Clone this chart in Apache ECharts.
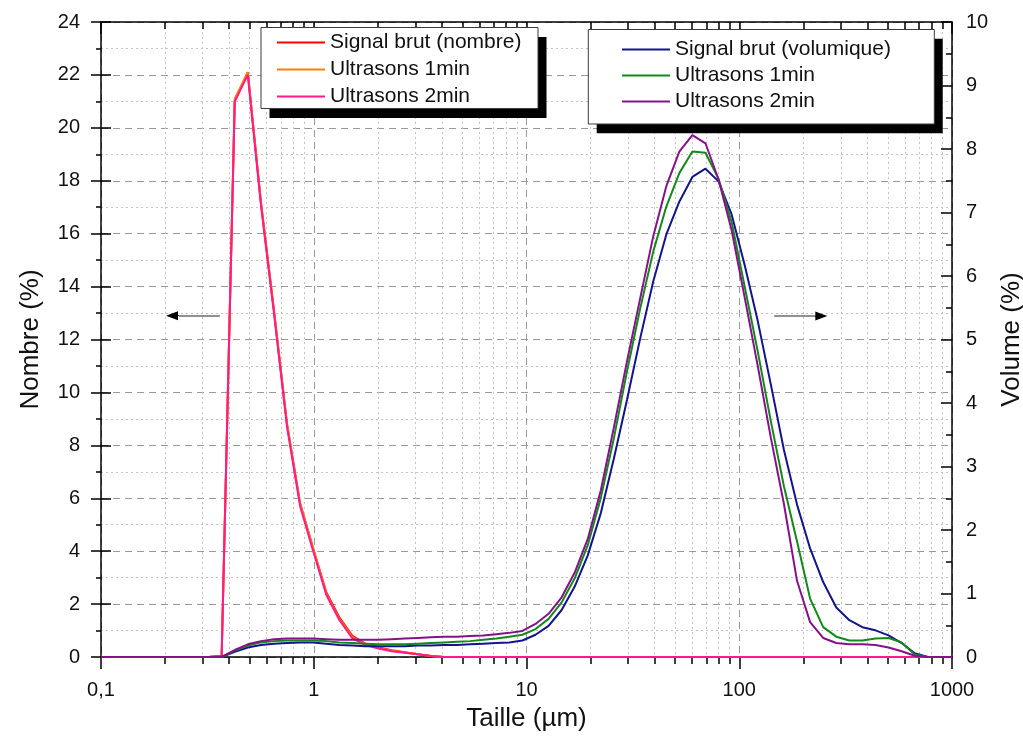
<!DOCTYPE html>
<html>
<head>
<meta charset="utf-8">
<script src="https://cdn.jsdelivr.net/npm/echarts@6/dist/echarts.min.js"></script>
<style>html,body{margin:0;padding:0;background:#fff}#c{width:1023px;height:736px}</style>
</head>
<body>
<div id="c"></div>
<script>
// ---- Data ----
const xTickLabels = ['0,1', '1', '10', '100', '1000'];
const minorXValues = [0.2,0.3,0.4,0.5,0.6,0.7,0.8,0.9,2,3,4,5,6,7,8,9,20,30,40,50,60,70,80,90,200,300,400,500,600,700,800,900];

// Number distribution (left axis, %)
const numSizes  = [0.1, 0.3204, 0.3691, 0.4252, 0.4898, 0.5643, 0.6501, 0.7489, 0.8630, 0.9940, 1.145, 1.319, 1.520, 1.751, 2.017, 2.324, 2.677, 3.084, 3.553, 4.093, 1000];
const numRaw    = [0, 0, 0.05, 21.0, 22.1, 17.2, 13.1, 8.8, 5.8, 4.1, 2.45, 1.5, 0.8, 0.5, 0.36, 0.26, 0.18, 0.1, 0.04, 0, 0];
const numUS1    = [0, 0, 0.05, 21.1, 22.1, 17.2, 13.1, 8.8, 5.8, 4.1, 2.4, 1.45, 0.75, 0.48, 0.34, 0.24, 0.17, 0.1, 0.04, 0, 0];
const numUS2    = [0, 0, 0.05, 21.0, 22.0, 17.1, 13.0, 8.7, 5.7, 4.0, 2.35, 1.4, 0.7, 0.45, 0.32, 0.22, 0.16, 0.1, 0.04, 0, 0];

// Volume distribution (right axis, %)
const volSizes = [0.1, 0.3204, 0.3691, 0.4252, 0.4898, 0.5643, 0.6501, 0.7489, 0.8630, 0.9940, 1.145, 1.319, 1.520, 1.751, 2.017, 2.324, 2.677, 3.084, 3.553, 4.093, 4.716, 5.433, 6.259, 7.210, 8.305, 9.568, 11.02, 12.70, 14.63, 16.85, 19.41, 22.37, 25.76, 29.68, 34.19, 39.39, 45.38, 52.27, 60.22, 69.38, 79.93, 92.09, 106.1, 122.2, 140.8, 162.2, 186.9, 215.3, 248.0, 285.8, 329.2, 379.3, 436.9, 503.3, 579.9, 668.0, 769.6, 886.6, 1000];
const volRaw = [0, 0, 0, 0.08, 0.15, 0.19, 0.21, 0.22, 0.23, 0.23, 0.21, 0.19, 0.18, 0.17, 0.17, 0.17, 0.17, 0.18, 0.18, 0.19, 0.19, 0.20, 0.21, 0.22, 0.23, 0.26, 0.35, 0.49, 0.74, 1.11, 1.60, 2.27, 3.13, 4.05, 5.01, 5.91, 6.65, 7.17, 7.56, 7.69, 7.49, 6.97, 6.17, 5.29, 4.29, 3.26, 2.40, 1.71, 1.18, 0.78, 0.58, 0.47, 0.42, 0.34, 0.22, 0.06, 0, 0, 0];
const volUS1 = [0, 0, 0, 0.10, 0.18, 0.23, 0.25, 0.26, 0.26, 0.26, 0.25, 0.23, 0.22, 0.21, 0.20, 0.20, 0.20, 0.21, 0.22, 0.23, 0.24, 0.25, 0.27, 0.29, 0.32, 0.35, 0.44, 0.60, 0.86, 1.24, 1.76, 2.51, 3.45, 4.50, 5.48, 6.38, 7.09, 7.62, 7.96, 7.94, 7.53, 6.85, 5.83, 4.81, 3.71, 2.69, 1.82, 0.92, 0.47, 0.32, 0.26, 0.26, 0.29, 0.30, 0.23, 0.04, 0, 0, 0];
const volUS2 = [0, 0, 0, 0.11, 0.20, 0.25, 0.28, 0.29, 0.29, 0.29, 0.28, 0.27, 0.27, 0.27, 0.27, 0.28, 0.29, 0.30, 0.31, 0.32, 0.32, 0.33, 0.34, 0.36, 0.38, 0.41, 0.52, 0.68, 0.94, 1.33, 1.86, 2.63, 3.62, 4.66, 5.64, 6.62, 7.41, 7.96, 8.22, 8.09, 7.52, 6.72, 5.66, 4.58, 3.45, 2.41, 1.20, 0.55, 0.30, 0.22, 0.20, 0.20, 0.19, 0.15, 0.09, 0.02, 0, 0, 0];

const numNames = ['Signal brut (nombre)', 'Ultrasons 1min', 'Ultrasons 2min'];
const volNames = ['Signal brut (volumique)', 'Ultrasons 1min ', 'Ultrasons 2min '];
const numColors = ['#ff0000', '#ff8000', '#ff1a8c'];
const volColors = ['#14148c', '#13891a', '#86128a'];

// arrows (data coordinates): shaft start, head base, tip
const leftArrow  = { from: [0.362, 12.9], head: [0.232, 12.9], to: [0.2156, 12.9] };
const rightArrow = { from: [146, 5.37], head: [228, 5.37], to: [243, 5.37] };

// ---- Chart ----
const FONT = 'Liberation Sans, Arial, sans-serif';
const pair = (xs, ys) => xs.map((x, i) => [x, ys[i]]);
const chart = echarts.init(document.getElementById('c'), null, { renderer: 'canvas' });

function fmtX(v) {
  const map = {0.1: xTickLabels[0], 1: xTickLabels[1], 10: xTickLabels[2], 100: xTickLabels[3], 1000: xTickLabels[4]};
  const key = Math.round(v * 1000) / 1000;
  return map[key] !== undefined ? map[key] : '';
}

const arrowLine = (a) => ({
  silent: true, symbol: 'none', symbolSize: [9, 12],
  label: { show: false },
  lineStyle: { color: '#6b6b6b', width: 1.6, type: 'solid' },
  emphasis: { disabled: true },
  data: [
    [{ coord: a.from, symbol: 'none' }, { coord: a.head, symbol: 'none' }],
    [{ coord: a.head, symbol: 'none', lineStyle: { color: '#000', width: 1 } },
     { coord: a.to, symbol: 'triangle', symbolSize: [9, 12], lineStyle: { color: '#000', width: 1 } }]
  ]
});

const numSeries = [numRaw, numUS1, numUS2].map((vals, i) => ({
  name: numNames[i], type: 'line', xAxisIndex: 0, yAxisIndex: 0,
  data: pair(numSizes, vals), symbol: 'none', smooth: false,
  lineStyle: { color: numColors[i], width: 2 }, itemStyle: { color: numColors[i] },
  z: 2, silent: true,
  markLine: i === 0 ? arrowLine(leftArrow) : undefined
}));
const volSeries = [volRaw, volUS1, volUS2].map((vals, i) => ({
  name: volNames[i], type: 'line', xAxisIndex: 0, yAxisIndex: 2,
  data: pair(volSizes, vals), symbol: 'none', smooth: false,
  lineStyle: { color: volColors[i], width: 2 }, itemStyle: { color: volColors[i] },
  z: 2, silent: true,
  markLine: i === 0 ? arrowLine(rightArrow) : undefined
}));

const logBase = { type: 'log', logBase: 10, min: 0.1, max: 1000, gridIndex: 0 };

const legendCommon = {
  orient: 'vertical', padding: 0, itemWidth: 48, itemHeight: 2, icon: 'rect',
  z: 20, selectedMode: false,
  textStyle: { fontFamily: FONT, fontSize: 21, lineHeight: 21, color: '#111' }
};

const option = {
  animation: false,
  backgroundColor: '#ffffff',
  textStyle: { fontFamily: FONT },
  grid: { show: false, left: 101, right: 71, top: 22, bottom: 79, outerBoundsMode: 'none', containLabel: false },
  graphic: [
    { type: 'rect', z: 10, silent: true, shape: { x: 269.5, y: 37, width: 277, height: 81 }, style: { fill: '#000' } },
    { type: 'rect', z: 11, silent: true, shape: { x: 261, y: 27.5, width: 277, height: 81 }, style: { fill: '#fff', stroke: '#3a3a3a', lineWidth: 1 } },
    { type: 'rect', z: 10, silent: true, shape: { x: 596.7, y: 38.8, width: 346, height: 94.5 }, style: { fill: '#000' } },
    { type: 'rect', z: 11, silent: true, shape: { x: 588.3, y: 29.5, width: 346, height: 94.5 }, style: { fill: '#fff', stroke: '#3a3a3a', lineWidth: 1 } }
  ],
  legend: [
    Object.assign({}, legendCommon, { data: numNames, left: 277, top: 32, itemGap: 6 }),
    Object.assign({}, legendCommon, { data: volNames, left: 622, top: 39, itemGap: 5 })
  ],
  xAxis: [
    Object.assign({}, logBase, {
      position: 'bottom',
      name: 'Taille (µm)', nameLocation: 'middle', nameGap: 49,
      nameTextStyle: { fontFamily: FONT, fontSize: 26, color: '#111' },
      axisLine: { show: true, onZero: false, lineStyle: { color: '#000', width: 1.5 } },
      axisTick: { show: true, inside: false, length: 12, lineStyle: { color: '#000', width: 1.5 } },
      axisLabel: { show: true, margin: 23, fontSize: 20, color: '#111', fontFamily: FONT, formatter: fmtX, showMinLabel: true, showMaxLabel: true },
      splitLine: { show: true, lineStyle: { color: '#9a9a9a', type: [7, 5], width: 1 } }
    }),
    Object.assign({}, logBase, {
      position: 'bottom',
      axisLine: { show: false, onZero: false },
      axisTick: { show: true, inside: false, length: 7, customValues: minorXValues, lineStyle: { color: '#000', width: 1.5 } },
      axisLabel: { show: false },
      splitLine: { show: true, lineStyle: { color: '#c4c4c4', type: [2, 3], width: 1 } }
    }),
    Object.assign({}, logBase, {
      position: 'top',
      axisLine: { show: true, onZero: false, lineStyle: { color: '#000', width: 1.5 } },
      axisTick: { show: true, inside: true, length: 12, lineStyle: { color: '#000', width: 1.5 } },
      axisLabel: { show: false }, splitLine: { show: false }
    }),
    Object.assign({}, logBase, {
      position: 'top',
      axisLine: { show: false, onZero: false },
      axisTick: { show: true, inside: true, length: 7, customValues: minorXValues, lineStyle: { color: '#000', width: 1.5 } },
      axisLabel: { show: false }, splitLine: { show: false }
    })
  ],
  yAxis: [
    {
      type: 'value', position: 'left', min: 0, max: 24, interval: 2,
      name: 'Nombre (%)', nameLocation: 'middle', nameGap: 57, nameRotate: 90,
      nameTextStyle: { fontFamily: FONT, fontSize: 26, color: '#111' },
      axisLine: { show: true, onZero: false, lineStyle: { color: '#000', width: 1.5 } },
      axisTick: { show: true, inside: false, length: 10, lineStyle: { color: '#000', width: 1.5 } },
      minorTick: { show: true, splitNumber: 2, length: 5, lineStyle: { color: '#000', width: 1.5 } },
      axisLabel: { margin: 21, fontSize: 20, color: '#111', fontFamily: FONT },
      splitLine: { show: true, lineStyle: { color: '#9a9a9a', type: [7, 5], width: 1 } },
      minorSplitLine: { show: true, lineStyle: { color: '#c4c4c4', type: [2, 3], width: 1 } }
    },
    {
      type: 'value', position: 'left', min: 0, max: 24, interval: 2,
      axisLine: { show: false, onZero: false },
      axisTick: { show: true, inside: true, length: 10, lineStyle: { color: '#000', width: 1.5 } },
      axisLabel: { show: false }, splitLine: { show: false }
    },
    {
      type: 'value', position: 'right', min: 0, max: 10, interval: 1,
      name: 'Volume (%)', nameLocation: 'middle', nameGap: 38, nameRotate: 90,
      nameTextStyle: { fontFamily: FONT, fontSize: 26, color: '#111' },
      axisLine: { show: true, onZero: false, lineStyle: { color: '#000', width: 1.5 } },
      axisTick: { show: true, inside: true, length: 11, lineStyle: { color: '#000', width: 1.5 } },
      minorTick: { show: true, splitNumber: 2, length: 6, lineStyle: { color: '#000', width: 1.5 } },
      axisLabel: { margin: 14, fontSize: 20, color: '#111', fontFamily: FONT },
      splitLine: { show: false }
    }
  ],
  series: numSeries.concat(volSeries)
};
chart.setOption(option);
</script>
</body>
</html>
